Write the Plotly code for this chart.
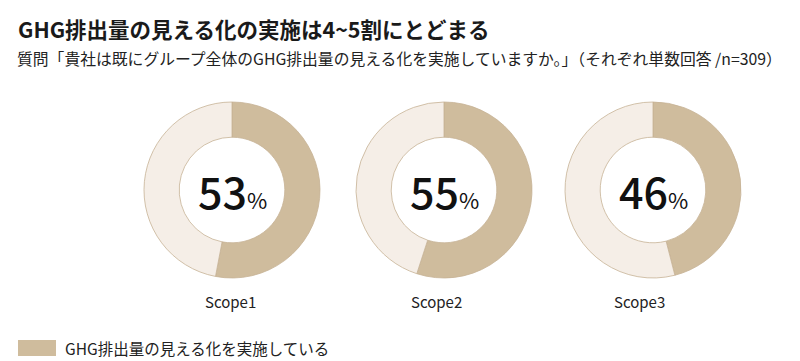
import plotly.graph_objects as go

title = "GHG排出量の見える化の実施は4~5割にとどまる"
subtitle = "質問「貴社は既にグループ全体のGHG排出量の見える化を実施していますか。」（それぞれ単数回答 /n=309）"
scopes = ["Scope1", "Scope2", "Scope3"]
implemented = [53, 55, 46]
legend_label = "GHG排出量の見える化を実施している"

W, H = 800, 361
FONT = "Noto Sans CJK JP"
DARK = "#cfbc9d"
LIGHT = "#f5eee7"
EDGE = "#c6b396"

centers_x = [224, 436, 645]
label_x = [222, 428, 631]
cy = 182
r = 88

fig = go.Figure()
for i, (name, v) in enumerate(zip(scopes, implemented)):
    cx = centers_x[i]
    fig.add_trace(go.Pie(
        values=[v, 100 - v],
        labels=["実施している", "その他"],
        hole=0.6,
        sort=False,
        direction="clockwise",
        rotation=0,
        textinfo="none",
        hoverinfo="skip",
        showlegend=False,
        marker=dict(colors=[DARK, LIGHT], line=dict(color=EDGE, width=0.8)),
        domain=dict(x=[(cx - r) / W, (cx + r) / W], y=[1 - (cy + r) / H, 1 - (cy - r) / H]),
    ))
    fig.add_annotation(
        x=cx / W, y=1 - cy / H, xref="paper", yref="paper", showarrow=False,
        text=(f"<span style='font-size:43px;font-weight:500'>{v}</span>"
              f"<span style='font-size:22px'>%</span>"),
        font=dict(family=FONT, color="#111111"), xanchor="center", yanchor="middle",
    )
    fig.add_annotation(
        x=label_x[i] / W, y=1 - 293 / H, xref="paper", yref="paper", showarrow=False,
        text=name, font=dict(family=FONT, size=15, color="#222222"),
        xanchor="center", yanchor="middle",
    )

fig.add_annotation(x=8 / W, y=1 - 20 / H, xref="paper", yref="paper", showarrow=False,
                   text=f"<b>{title}</b>", font=dict(family=FONT, size=21.5, color="#1a1a1a"),
                   xanchor="left", yanchor="middle")
fig.add_annotation(x=7 / W, y=1 - 50 / H, xref="paper", yref="paper", showarrow=False,
                   text=subtitle, font=dict(family=FONT, size=15.8, color="#222222"),
                   xanchor="left", yanchor="middle")

fig.add_shape(type="rect", xref="paper", yref="paper",
              x0=10 / W, x1=48 / W, y0=1 - 348 / H, y1=1 - 332 / H,
              fillcolor=DARK, line=dict(width=0))
fig.add_annotation(x=55 / W, y=1 - 340 / H, xref="paper", yref="paper", showarrow=False,
                   text=legend_label, font=dict(family=FONT, size=15.5, color="#222222"),
                   xanchor="left", yanchor="middle")

fig.update_layout(width=W, height=H, margin=dict(l=0, r=0, t=0, b=0),
                  paper_bgcolor="white", plot_bgcolor="white", showlegend=False)
fig.write_html("out.html")
